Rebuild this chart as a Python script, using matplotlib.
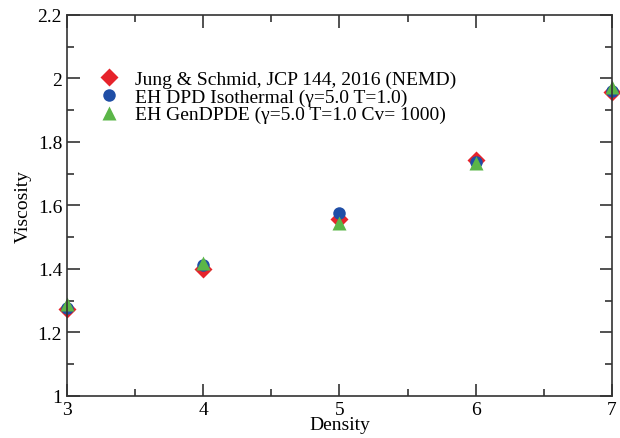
import matplotlib
matplotlib.use("Agg")
import matplotlib.pyplot as plt
from matplotlib.ticker import MultipleLocator

density = [3, 4, 5, 6, 7]
jung = [1.274, 1.400, 1.558, 1.742, 1.958]
eh_dpd = [1.278, 1.413, 1.575, 1.737, 1.960]
eh_gen = [1.288, 1.418, 1.545, 1.733, 1.973]

labels = ["Jung & Schmid, JCP 144, 2016 (NEMD)",
          "EH DPD Isothermal (\u03b3=5.0 T=1.0)",
          "EH GenDPDE (\u03b3=5.0 T=1.0 Cv= 1000)"]

plt.rcParams['font.family'] = ['Liberation Serif', 'DejaVu Serif']

fig = plt.figure(figsize=(6.2, 4.39), dpi=100)
ax = fig.add_axes([0.108, 0.096, 0.879, 0.868])

ax.plot(density, jung, linestyle='none', marker='D', ms=9, color='#e6232b', label=labels[0], mec='none', clip_on=False)
ax.plot(density, eh_dpd, linestyle='none', marker='o', ms=9, color='#1f4ea6', label=labels[1], mec='none', clip_on=False)
ax.plot(density, eh_gen, linestyle='none', marker='^', ms=9.5, color='#5bb648', label=labels[2], mec='none', clip_on=False)

ax.set_xlim(3, 7)
ax.set_ylim(1, 2.2)
ax.xaxis.set_major_locator(MultipleLocator(1))
ax.xaxis.set_minor_locator(MultipleLocator(0.5))
ax.yaxis.set_minor_locator(MultipleLocator(0.1))
ax.set_yticks([1, 1.2, 1.4, 1.6, 1.8, 2, 2.2])
ax.set_yticklabels(["1", "1.2", "1.4", "1.6", "1.8", "2", "2.2"])
ax.tick_params(which='both', direction='in', top=True, right=True, labelsize=14, color='#333333')
ax.tick_params(which='major', length=9, width=1.2)
ax.tick_params(which='minor', length=5, width=1.2)
for s in ax.spines.values():
    s.set_linewidth(1.2)
    s.set_color('#333333')

ax.set_xlabel("Density", fontsize=14, labelpad=-1)
ax.set_ylabel("Viscosity", fontsize=14, labelpad=4)

leg = ax.legend(loc='upper left', bbox_to_anchor=(0.029, 0.9), frameon=False, fontsize=14,
                handletextpad=0.9, labelspacing=0.0, handlelength=0.9)

fig.savefig("out.png", dpi=100)
